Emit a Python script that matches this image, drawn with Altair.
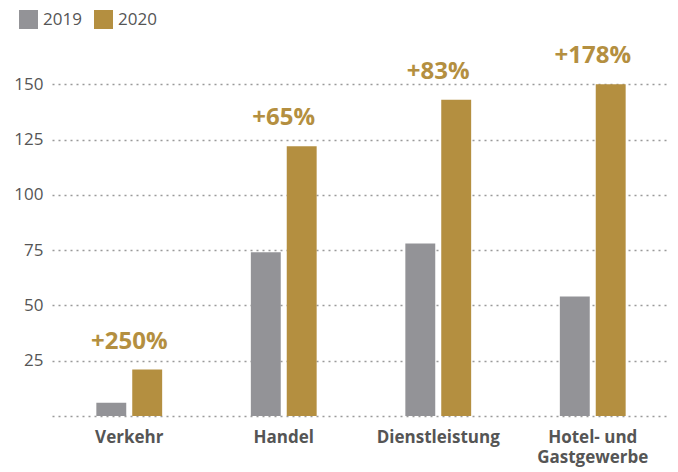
import altair as alt
import pandas as pd

categories = ["Verkehr", "Handel", "Dienstleistung", "Hotel- und Gastgewerbe"]
values_2019 = [6, 74, 78, 54]
values_2020 = [21, 122, 143, 150]
pct_labels = ["+250%", "+65%", "+83%", "+178%"]
years = ["2019", "2020"]
y_ticks = [0, 25, 50, 75, 100, 125, 150]

rows = []
for c, v19, v20, p in zip(categories, values_2019, values_2020, pct_labels):
    rows.append({"cat": c, "year": "2019", "value": v19, "pct": p})
    rows.append({"cat": c, "year": "2020", "value": v20, "pct": p})
df = pd.DataFrame(rows)

GRAY = "#939397"
GOLD = "#B48F40"
FONT = "Open Sans"

x_enc = alt.X(
    "cat:N",
    sort=categories,
    scale=alt.Scale(paddingInner=0.574, paddingOuter=0.287),
    axis=alt.Axis(
        title=None, domain=False, ticks=False, labelAngle=0,
        labelFontSize=17, labelFontWeight="bold", labelColor="#555555",
        labelFont=FONT, labelPadding=13, labelLineHeight=20,
        labelExpr="datum.label == 'Hotel- und Gastgewerbe' ? ['Hotel- und', 'Gastgewerbe'] : datum.label",
    ),
)
y_enc = alt.Y(
    "value:Q",
    scale=alt.Scale(domain=[0, 175], nice=False),
    axis=alt.Axis(
        title=None, domain=False, ticks=False, values=y_ticks,
        labelExpr="datum.value == 0 ? '' : datum.label",
        labelFontSize=17, labelColor="#555555", labelFont=FONT, labelPadding=9,
        grid=True, gridColor="#9a9a9a", gridDash=[2, 4], gridWidth=1.5,
    ),
)

bars = alt.Chart(df).mark_bar().encode(
    x=x_enc,
    xOffset=alt.XOffset("year:N", scale=alt.Scale(paddingInner=0.167, paddingOuter=0)),
    y=y_enc,
    color=alt.Color(
        "year:N",
        scale=alt.Scale(domain=years, range=[GRAY, GOLD]),
        legend=alt.Legend(
            title=None, orient="none", direction="horizontal",
            legendX=-33, legendY=-19, symbolType="square", symbolSize=361,
            symbolStrokeWidth=0, symbolOpacity=1, labelFontSize=17,
            labelColor="#555555", labelFont=FONT, labelOffset=5, columnPadding=12,
        ),
    ),
)

labels = alt.Chart(df).transform_filter(alt.datum.year == "2020").mark_text(
    fontSize=24, fontWeight="bold", color=GOLD, font=FONT, baseline="alphabetic", dy=-21
).encode(
    x=alt.X("cat:N", sort=categories),
    y=alt.Y("value:Q"),
    text="pct:N",
)

chart = alt.layer(bars, labels).properties(
    width=618, height=387,
    autosize=alt.AutoSizeParams(type="none"),
    padding={"left": 44, "top": 21, "right": 0, "bottom": 56},
).configure_view(stroke=None)

chart.save("out.html", embed_options={"renderer": "svg", "actions": False})
